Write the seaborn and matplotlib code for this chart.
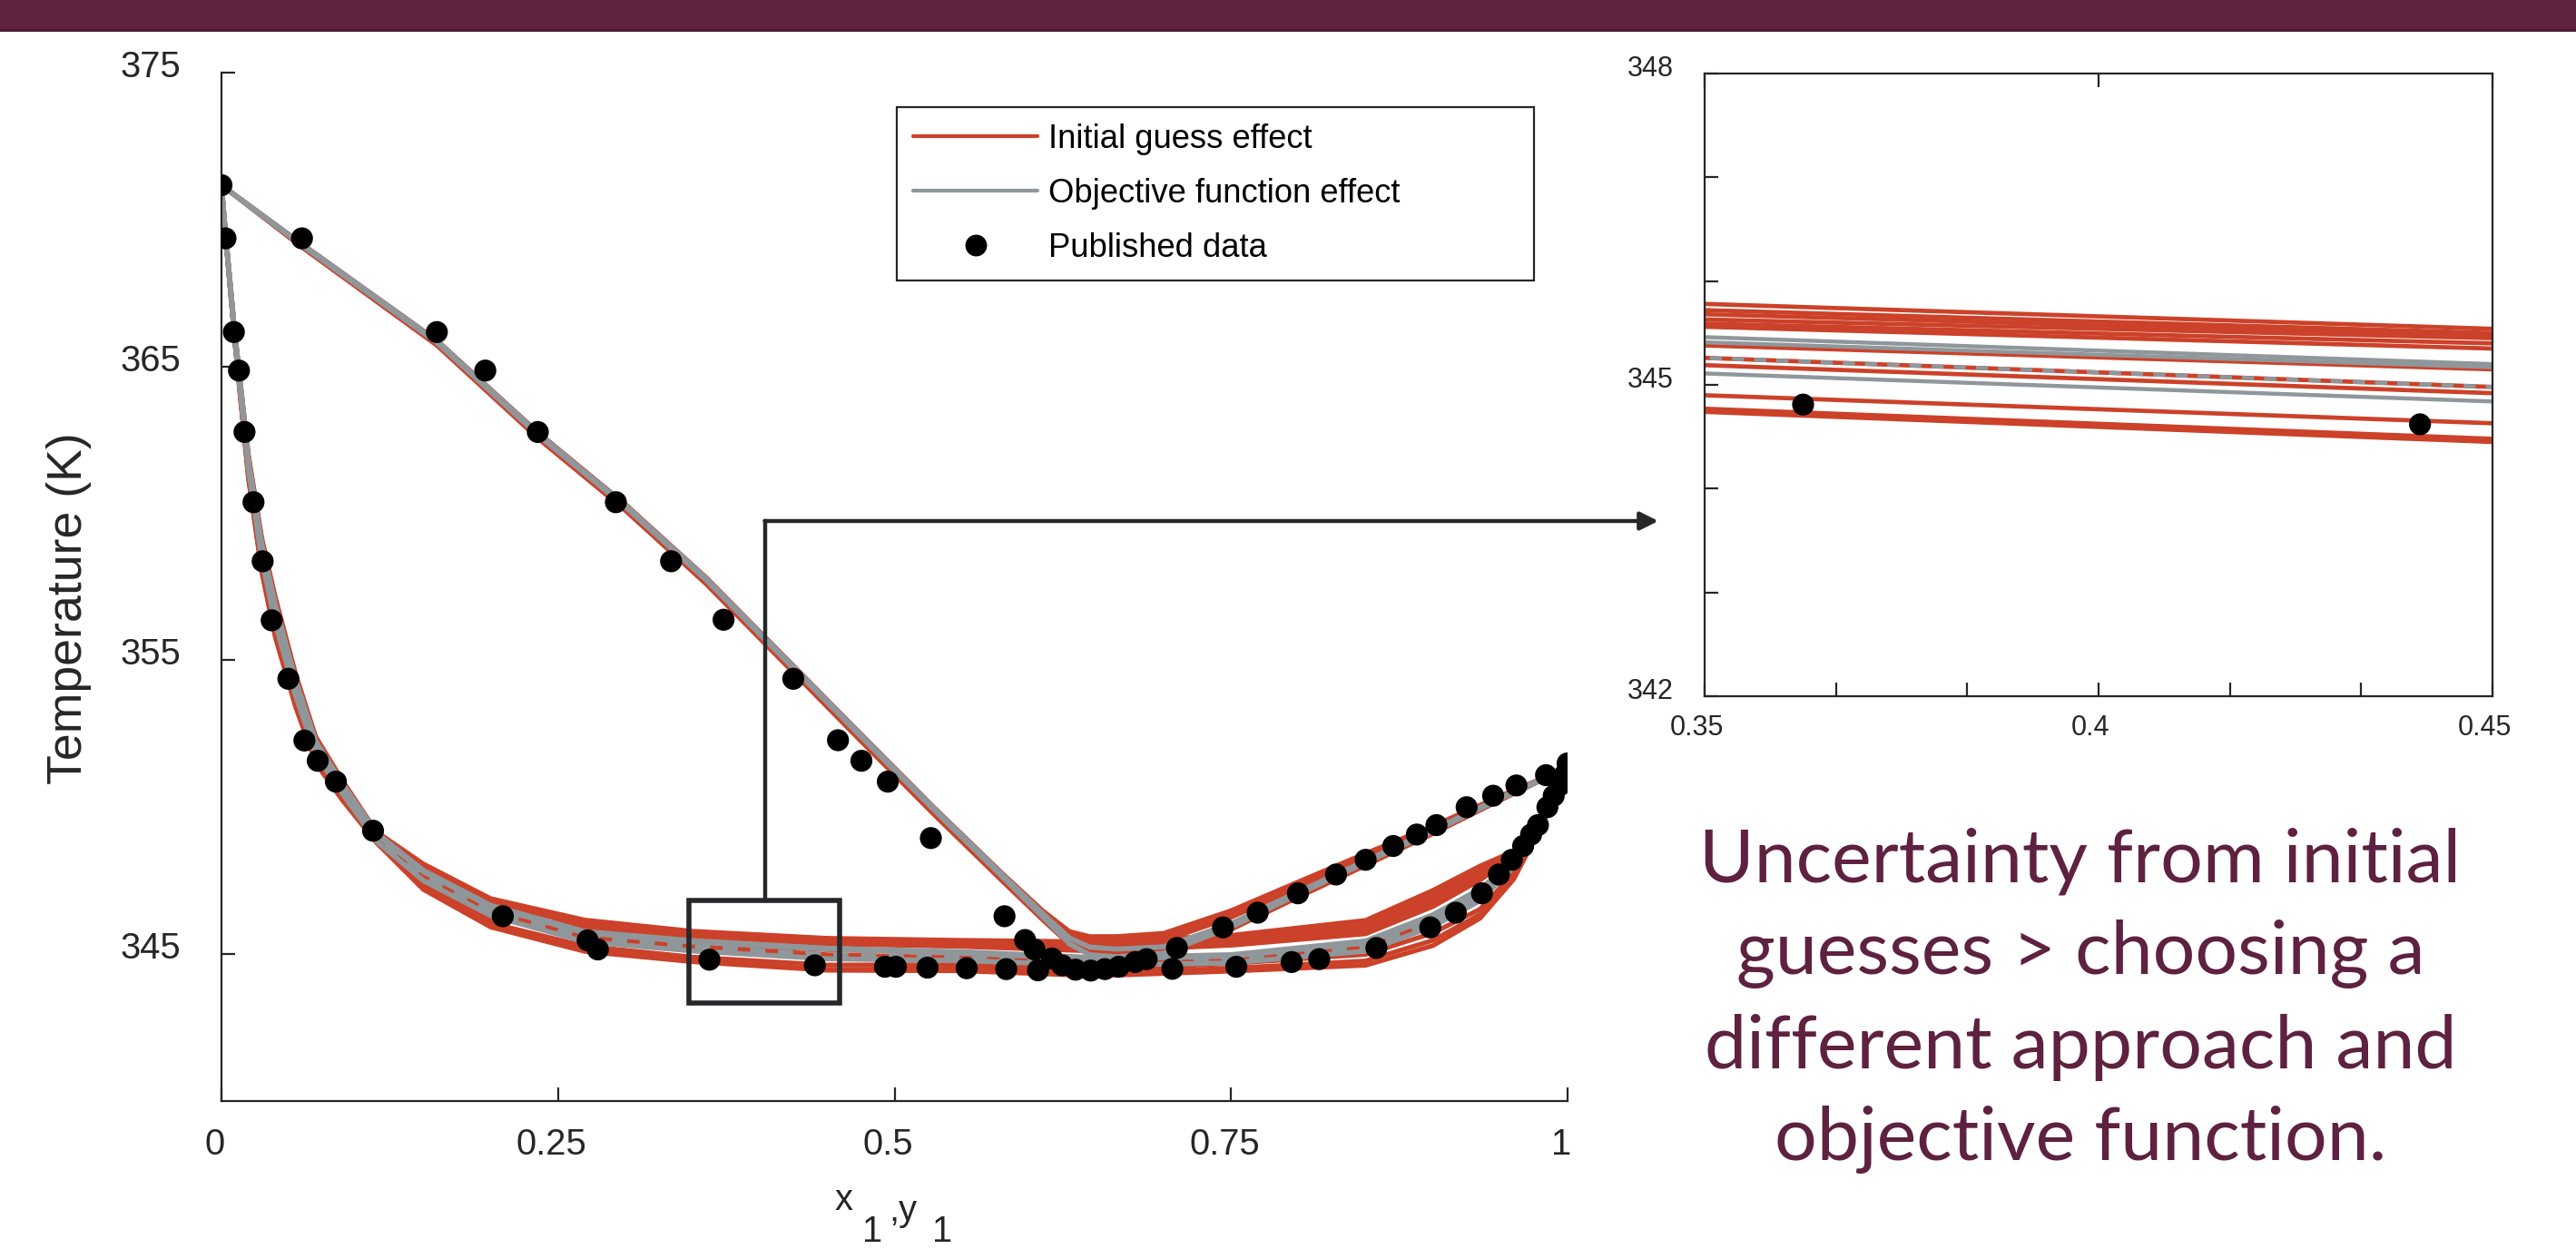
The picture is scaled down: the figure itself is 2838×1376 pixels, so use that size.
import numpy as np
import matplotlib
matplotlib.use("Agg")
import matplotlib.pyplot as plt
from matplotlib.lines import Line2D
from matplotlib.patches import Rectangle, FancyArrowPatch, ArrowStyle
from matplotlib.ticker import AutoMinorLocator
from matplotlib.transforms import ScaledTranslation
import seaborn as sns

W, H, DPI = 2838, 1376, 200

# ---- published data (liquid x1 and vapour y1 vs T) ----
liq_x = [0.0, 0.003, 0.0092, 0.013, 0.0171, 0.0238, 0.0306, 0.0373, 0.0497, 0.0616,
         0.0715, 0.085, 0.1126, 0.209, 0.272, 0.2796, 0.3625, 0.4408, 0.4929, 0.501,
         0.5245, 0.5536, 0.583, 0.6066, 0.6345, 0.6458, 0.6563, 0.7064, 0.7539, 0.795,
         0.8155, 0.858, 0.898, 0.917, 0.9364, 0.949, 0.9586, 0.967, 0.9729, 0.978,
         0.985, 0.9897, 0.994, 0.9976, 1.0]
liq_T = [371.17, 369.36, 366.17, 364.86, 362.77, 360.38, 358.37, 356.36, 354.37, 352.27,
         351.58, 350.87, 349.20, 346.29, 345.47, 345.16, 344.81, 344.62, 344.57, 344.57,
         344.54, 344.52, 344.49, 344.45, 344.47, 344.44, 344.49, 344.50, 344.57, 344.73,
         344.83, 345.21, 345.91, 346.41, 347.07, 347.71, 348.21, 348.68, 349.07, 349.39,
         350.0, 350.39, 350.74, 351.09, 351.49]
vap_y = [0.0598, 0.160, 0.196, 0.235, 0.293, 0.334, 0.373, 0.4248, 0.458, 0.4754,
         0.495, 0.527, 0.5817, 0.597, 0.604, 0.617, 0.6245, 0.6667, 0.6788, 0.6873,
         0.7098, 0.744, 0.7698, 0.7997, 0.828, 0.850, 0.8705, 0.888, 0.9026, 0.925,
         0.9447, 0.962, 0.984]
vap_T = [369.36, 366.17, 364.86, 362.77, 360.38, 358.37, 356.38, 354.37, 352.28, 351.58,
         350.87, 348.95, 346.29, 345.48, 345.16, 344.85, 344.62, 344.57, 344.73, 344.83,
         345.21, 345.91, 346.41, 347.07, 347.71, 348.21, 348.68, 349.07, 349.39, 350.0,
         350.39, 350.74, 351.09]

# ---- model curves: bubble branch (reference curve + per-run offsets, K) ----
bub_x = [0.0, 0.003, 0.01, 0.02, 0.03, 0.04, 0.055, 0.07, 0.09, 0.115, 0.15, 0.2, 0.27,
         0.35, 0.45, 0.55, 0.65, 0.75, 0.85, 0.9, 0.935, 0.96, 0.98, 0.99, 1.0]
bub_ref = [371.17, 369.5, 366.0, 361.7, 358.7, 356.6, 354.1, 352.05, 350.65, 349.05, 347.77,
           346.58, 345.69, 345.38, 345.12, 345.00, 344.80, 344.90, 345.35, 346.22, 347.10,
           348.10, 349.50, 350.40, 351.35]

bub_red_a1 = [0, 0.05, 0.15, 0.30, 0.45, 0.55, 0.45, 0.35, 0.25, 0.12, 0.30, 0.31, 0.47, 0.40, 0.42, 0.47, 0.62, 0.74, 0.80, 0.95, 0.90, 0.40, 0.15, 0.05, 0]
bub_red_a2 = [0, 0.04, 0.12, 0.25, 0.38, 0.45, 0.38, 0.30, 0.20, 0.08, 0.22, 0.18, 0.40, 0.34, 0.38, 0.41, 0.52, 0.64, 0.68, 0.82, 0.78, 0.34, 0.12, 0.04, 0]
bub_red_a5 = [0, 0.02, 0.06, 0.12, 0.18, 0.22, 0.18, 0.15, 0.10, 0.04, 0.12, 0.10, 0.35, 0.30, 0.35, 0.37, 0.47, 0.58, 0.60, 0.72, 0.69, 0.31, 0.11, 0.03, 0]
bub_red_a3 = [0, -0.03, -0.10, -0.20, -0.30, -0.35, -0.30, -0.25, -0.20, -0.10, -0.28, -0.30, 0.30, 0.25, 0.33, 0.34, 0.42, 0.52, 0.52, 0.62, 0.60, 0.28, 0.10, 0.03, 0]
bub_red_a6 = [0, -0.02, -0.06, -0.12, -0.18, -0.22, -0.18, -0.15, -0.12, -0.06, -0.15, -0.18, 0.26, 0.21, 0.28, 0.30, 0.36, 0.46, 0.43, 0.51, 0.51, 0.25, 0.09, 0.02, 0]
bub_red_a4 = [0, -0.04, -0.15, -0.30, -0.45, -0.50, -0.42, -0.35, -0.28, -0.18, -0.35, -0.40, 0.22, 0.18, 0.23, 0.26, 0.30, 0.40, 0.34, 0.40, 0.42, 0.22, 0.08, 0.02, 0]
bub_red_b1 = [0, -0.04, -0.15, -0.35, -0.50, -0.60, -0.50, -0.40, -0.30, -0.15, -0.40, -0.52, -0.42, -0.48, -0.49, -0.36, -0.33, -0.22, -0.36, -0.50, -0.57, -0.35, -0.12, -0.04, 0]
bub_red_b2 = [0, -0.05, -0.20, -0.45, -0.65, -0.75, -0.62, -0.50, -0.38, -0.22, -0.50, -0.62, -0.55, -0.61, -0.64, -0.50, -0.45, -0.38, -0.58, -0.75, -0.75, -0.48, -0.17, -0.06, 0]
bub_red_b3 = [0, -0.06, -0.22, -0.50, -0.72, -0.82, -0.68, -0.55, -0.42, -0.25, -0.57, -0.66, -0.60, -0.64, -0.67, -0.57, -0.54, -0.48, -0.73, -0.93, -0.88, -0.55, -0.20, -0.07, 0]
bub_red_c1 = [0, 0.02, 0.05, 0.10, 0.15, 0.20, 0.15, 0.12, 0.08, 0.05, 0.05, 0.00, 0.00, 0.00, 0.03, 0.05, 0.05, 0.05, 0.05, 0.05, 0.05, 0.05, 0.02, 0, 0]
bub_red_c2 = [0, -0.01, -0.04, -0.08, -0.12, -0.15, -0.12, -0.10, -0.08, -0.10, -0.12, -0.12, -0.12, -0.12, -0.14, -0.12, -0.10, -0.10, -0.12, -0.14, -0.12, -0.06, -0.03, -0.01, 0]
bub_red_c3 = [0, -0.02, -0.07, -0.14, -0.21, -0.25, -0.21, -0.17, -0.14, -0.15, -0.19, -0.19, -0.19, -0.19, -0.20, -0.17, -0.14, -0.15, -0.18, -0.20, -0.20, -0.09, -0.04, -0.01, 0]

bub_gray_1 = [0, 0.03, 0.08, 0.15, 0.25, 0.30, 0.25, 0.20, 0.15, 0.08, 0.08, 0.08, 0.08, 0.08, 0.08, 0.08, 0.08, 0.08, 0.10, 0.12, 0.12, 0.06, 0.03, 0.01, 0]
bub_gray_2 = [0, 0.01, 0.03, 0.05, 0.08, 0.10, 0.08, 0.07, 0.05, 0.03, 0.03, 0.03, 0.03, 0.03, 0.05, 0.03, 0.03, 0.03, 0.03, 0.03, 0.03, 0.02, 0.01, 0, 0]
bub_gray_3 = [0, -0.03, -0.10, -0.20, -0.30, -0.35, -0.30, -0.25, -0.20, -0.20, -0.27, -0.27, -0.27, -0.27, -0.28, -0.22, -0.18, -0.20, -0.25, -0.28, -0.28, -0.12, -0.05, -0.02, 0]
bub_gray_dash = [0, -0.01, -0.04, -0.08, -0.12, -0.15, -0.12, -0.10, -0.08, -0.10, -0.12, -0.12, -0.12, -0.12, -0.14, -0.12, -0.10, -0.10, -0.12, -0.14, -0.12, -0.06, -0.03, -0.01, 0]

# ---- model curves: dew branch ----
dew_x = [0.0, 0.06, 0.16, 0.235, 0.3, 0.36, 0.42, 0.48, 0.53, 0.58, 0.61, 0.63, 0.645,
         0.665, 0.7, 0.75, 0.8, 0.85, 0.9, 0.95, 1.0]
dew_ref = [371.17, 369.13, 365.84, 362.70, 360.25, 357.76, 354.98, 352.20, 349.90, 347.67,
           346.33, 345.45, 345.12, 345.05, 345.15, 345.98, 347.08, 348.15, 349.20, 350.30, 351.35]

dew_red_u1 = [0, 0.03, 0.05, 0.06, 0.06, 0.06, 0.06, 0.06, 0.06, 0.08, 0.15, 0.32, 0.48, 0.55, 0.56, 0.50, 0.38, 0.28, 0.16, 0.08, 0]
dew_red_u2 = [0, 0.02, 0.03, 0.04, 0.04, 0.04, 0.04, 0.04, 0.04, 0.05, 0.10, 0.22, 0.36, 0.42, 0.44, 0.38, 0.28, 0.20, 0.10, 0.05, 0]
dew_red_u3 = [0, 0.01, 0.01, 0.02, 0.02, 0.02, 0.02, 0.02, 0.02, 0.03, 0.05, 0.12, 0.24, 0.30, 0.31, 0.27, 0.19, 0.12, 0.06, 0.03, 0]
dew_red_l1 = [0, -0.08, -0.12, -0.14, -0.15, -0.16, -0.17, -0.18, -0.18, -0.18, -0.16, -0.12, -0.10, -0.10, -0.12, -0.14, -0.14, -0.13, -0.10, -0.06, 0]
dew_red_l2 = [0, -0.05, -0.08, -0.09, -0.10, -0.10, -0.11, -0.12, -0.12, -0.12, -0.10, -0.08, -0.06, -0.06, -0.08, -0.10, -0.10, -0.09, -0.07, -0.04, 0]
dew_gray_1 = [0, 0.02, 0.03, 0.03, 0.03, 0.03, 0.03, 0.03, 0.03, 0.04, 0.06, 0.10, 0.12, 0.12, 0.10, 0.06, 0.04, 0.03, 0.03, 0.02, 0]
dew_gray_2 = [0, -0.02, -0.03, -0.03, -0.03, -0.03, -0.03, -0.03, -0.03, -0.04, -0.06, -0.10, -0.14, -0.14, -0.12, -0.06, -0.04, -0.03, -0.03, -0.02, 0]

legend_labels = ["Initial guess effect", "Objective function effect", "Published data"]
note_lines = ["Uncertainty from initial", "guesses > choosing a",
              "different approach and", "objective function."]

RED = "#CC4129"
GRAY = "#8F979B"
INK = "#262626"
BOX = "#25272A"
MAROON = "#5E2140"

sns.set_theme(style="white")
plt.rcParams["font.family"] = ["Liberation Sans", "DejaVu Sans"]

fig = plt.figure(figsize=(W / DPI, H / DPI), dpi=DPI)
fig.patch.set_facecolor("white")


def fx(px):
    return px / W


def fy(py):
    return 1 - py / H


ax = fig.add_axes([fx(244), fy(1213), (1727 - 244) / W, (1213 - 80) / H])
axi = fig.add_axes([fx(1878), fy(767), (2746 - 1878) / W, (767 - 81) / H])

red_bub = [bub_red_b3, bub_red_b2, bub_red_b1, bub_red_c3, bub_red_c2, bub_red_c1,
           bub_red_a4, bub_red_a6, bub_red_a3, bub_red_a5, bub_red_a2, bub_red_a1]
gray_bub = [bub_gray_3, bub_gray_2, bub_gray_1]
red_dew = [dew_red_l1, dew_red_l2, dew_red_u1, dew_red_u2, dew_red_u3]
gray_dew = [dew_gray_1, dew_gray_2]


def draw(a, lw_red, lw_gray, dot):
    for offs in red_dew:
        sns.lineplot(x=dew_x, y=np.add(dew_ref, offs), ax=a, color=RED, linewidth=lw_red,
                     sort=False, estimator=None, legend=False)
    for offs in red_bub:
        sns.lineplot(x=bub_x, y=np.add(bub_ref, offs), ax=a, color=RED, linewidth=lw_red,
                     sort=False, estimator=None, legend=False)
    for offs in gray_dew:
        sns.lineplot(x=dew_x, y=np.add(dew_ref, offs), ax=a, color=GRAY, linewidth=lw_gray,
                     sort=False, estimator=None, legend=False)
    for offs in gray_bub:
        sns.lineplot(x=bub_x, y=np.add(bub_ref, offs), ax=a, color=GRAY, linewidth=lw_gray,
                     sort=False, estimator=None, legend=False)
    sns.lineplot(x=bub_x, y=np.add(bub_ref, bub_gray_dash), ax=a, color=GRAY,
                 linewidth=lw_gray, linestyle=(0, (3, 2.5)), sort=False, estimator=None,
                 legend=False)
    sns.scatterplot(x=liq_x, y=liq_T, ax=a, color="black", s=dot, edgecolor="none",
                    zorder=5, legend=False)
    sns.scatterplot(x=vap_y, y=vap_T, ax=a, color="black", s=dot, edgecolor="none",
                    zorder=5, legend=False)


draw(ax, 1.85, 2.0, 76)
draw(axi, 1.7, 1.6, 76)

# ---- main axes style ----
ax.set_xlim(0, 1)
ax.set_ylim(340, 375)
ax.set_xlabel("")
ax.set_ylabel("")
for s in ["top", "right"]:
    ax.spines[s].set_visible(False)
for s in ["left", "bottom"]:
    ax.spines[s].set_color(INK)
    ax.spines[s].set_linewidth(0.8)
ax.set_xticks([0, 0.25, 0.5, 0.75, 1])
ax.set_xticklabels(["0", "0.25", "0.5", "0.75", "1"])
ax.set_yticks([345, 355, 365, 375])
ax.set_yticklabels(["345", "355", "365", "375"])
ax.tick_params(direction="in", length=5.4, width=0.8, color=INK, labelcolor=INK,
               labelsize=14.4, left=True, bottom=True)
ax.tick_params(axis="y", pad=16)
ax.tick_params(axis="x", pad=10.5)

# ---- inset style ----
axi.set_xlim(0.35, 0.45)
axi.set_ylim(342, 348)
axi.set_xlabel("")
axi.set_ylabel("")
for s in axi.spines.values():
    s.set_visible(True)
    s.set_color(INK)
    s.set_linewidth(0.8)
axi.set_xticks([0.35, 0.4, 0.45])
axi.set_xticklabels(["0.35", "0.4", "0.45"])
axi.set_yticks([342, 345, 348])
axi.set_yticklabels(["342", "345", "348"])
axi.xaxis.set_minor_locator(AutoMinorLocator(3))
axi.yaxis.set_minor_locator(AutoMinorLocator(3))
axi.tick_params(which="both", direction="in", length=5.4, width=0.8, color=INK,
                labelcolor=INK, labelsize=11, left=True, bottom=True)
axi.tick_params(axis="x", which="major", top=True, pad=7.2)
axi.tick_params(axis="y", pad=12.2)

# small label offsets like the source renderer
for lab in ax.get_yticklabels():
    lab.set_transform(lab.get_transform() + ScaledTranslation(0, 10 / DPI, fig.dpi_scale_trans))
for lab in ax.get_xticklabels():
    lab.set_transform(lab.get_transform() + ScaledTranslation(-7 / DPI, 0, fig.dpi_scale_trans))
for lab in axi.get_yticklabels():
    lab.set_transform(lab.get_transform() + ScaledTranslation(0, 9 / DPI, fig.dpi_scale_trans))
for lab in axi.get_xticklabels():
    lab.set_transform(lab.get_transform() + ScaledTranslation(-9 / DPI, 0, fig.dpi_scale_trans))

# ---- legend ----
handles = [Line2D([0], [0], color=RED, lw=1.5),
           Line2D([0], [0], color=GRAY, lw=1.5),
           Line2D([0], [0], ls="none", marker="o", color="black", ms=7.6)]
leg = ax.legend(handles, legend_labels, loc="upper left",
                bbox_to_anchor=(0.5017, 0.7802, 0.4734, 0.1863), mode="expand",
                fontsize=13.1, frameon=True, fancybox=False, edgecolor=INK,
                framealpha=1, borderpad=0.5, labelspacing=0.68, handlelength=3.76,
                handletextpad=0.33, borderaxespad=0)
leg.get_frame().set_linewidth(0.8)
for t in leg.get_texts():
    t.set_color("black")

# ---- zoom box and connector ----
ax.add_patch(Rectangle((0.347, 343.34), 0.112, 3.5, fill=False, ec=BOX, lw=2.0, zorder=6))
fig.add_artist(Line2D([fx(842.5), fx(842.5)], [fy(991.5), fy(574)], color=BOX, lw=1.6,
                      solid_capstyle="projecting"))
fig.add_artist(FancyArrowPatch((fx(842.5), fy(574)), (fx(1827), fy(574)),
                               transform=fig.transFigure, color=BOX, lw=1.6,
                               arrowstyle=ArrowStyle("-|>", head_length=6.0, head_width=3.0),
                               mutation_scale=1, shrinkA=0, shrinkB=0))

# ---- axis labels ----
fig.text(fx(76), fy(670), "Temperature (K)", rotation=90, ha="center", va="center",
         fontsize=19.3, color=INK)
fig.text(fx(920), fy(1333), "x", ha="left", va="baseline", fontsize=14.4, color=INK)
fig.text(fx(950), fy(1368), "1", ha="left", va="baseline", fontsize=14.4, color=INK)
fig.text(fx(979), fy(1345), ",y", ha="left", va="baseline", fontsize=14.4, color=INK)
fig.text(fx(1027), fy(1368), "1", ha="left", va="baseline", fontsize=14.4, color=INK)

# ---- header band and note ----
fig.add_artist(Rectangle((0, fy(32)), 1, 32 / H, transform=fig.transFigure,
                         color="#5F2340", lw=0, zorder=0))
fig.add_artist(Rectangle((0, fy(35)), 1, 3 / H, transform=fig.transFigure,
                         color="#4A1A31", lw=0, zorder=0))
for line, base in zip(note_lines, [971.7, 1073.3, 1176.7, 1278.3]):
    fig.text(fx(2292), fy(base), line, ha="center", va="baseline", fontsize=29.7,
             family=["Lato", "DejaVu Sans"], color=MAROON)

fig.savefig("out.png", dpi=DPI, facecolor="white")
